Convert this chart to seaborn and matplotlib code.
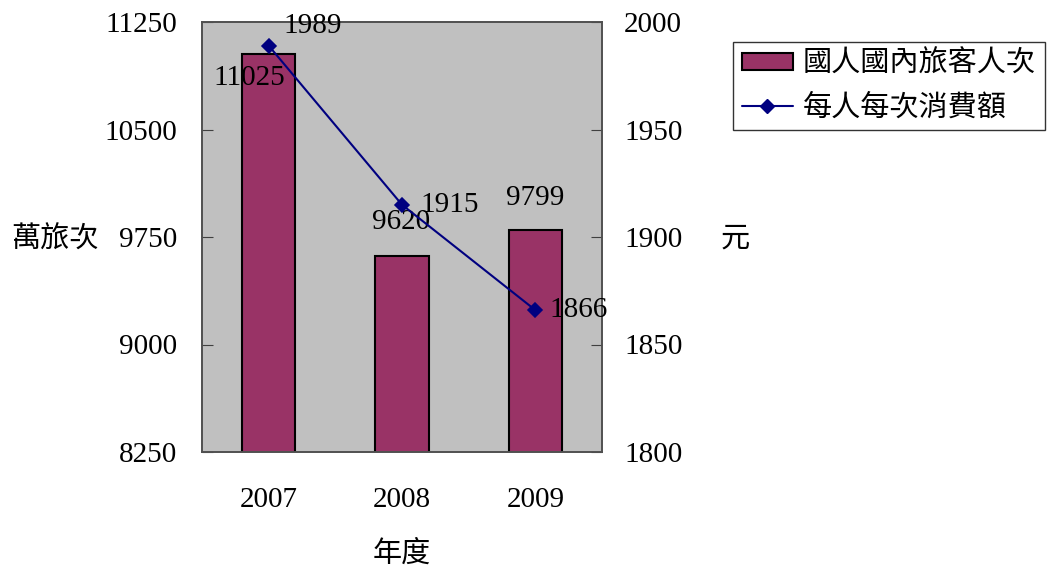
import matplotlib
matplotlib.use("Agg")
import matplotlib.pyplot as plt
import seaborn as sns
from matplotlib.lines import Line2D
from matplotlib.patches import Patch

years = ["2007", "2008", "2009"]
trips = [11025, 9620, 9799]          # 萬旅次
spend = [1989, 1915, 1866]           # 元
bar_name = "國人國內旅客人次"
line_name = "每人每次消費額"

sns.set_style("white")
plt.rcParams["font.family"] = ["Liberation Serif", "Noto Sans CJK TC", "DejaVu Sans"]
plt.rcParams["font.size"] = 21
plt.rcParams["text.color"] = "black"
plt.rcParams["xtick.color"] = "black"
plt.rcParams["ytick.color"] = "black"
plt.rcParams["xtick.labelcolor"] = "black"
plt.rcParams["ytick.labelcolor"] = "black"

bar_color = "#993366"
line_color = "#000080"
fs = 21

fig = plt.figure(figsize=(10.47, 5.70), dpi=100)
ax = fig.add_axes([202 / 1047, 1 - 452 / 570, 400 / 1047, 430 / 570])
ax.set_facecolor("#C0C0C0")

sns.barplot(x=years, y=trips, ax=ax, color=bar_color, width=0.4,
            edgecolor="black", linewidth=1.5, saturation=1)
ax.set_ylim(8250, 11250)
ax.set_yticks(range(8250, 11251, 750))
ax.set_xlim(-0.5, 2.5)

ax2 = ax.twinx()
sns.pointplot(x=years, y=spend, ax=ax2, color=line_color, marker="D",
              markersize=7, linewidth=1.5)
ax2.set_ylim(1800, 2000)
ax2.set_yticks(range(1800, 2001, 50))
ax2.set_xlim(-0.5, 2.5)

# x ticks: labels at centres, tick marks at category boundaries
ax.set_xticks(range(len(years)))
ax.set_xticklabels(years)
ax.set_xticks([0.5, 1.5], minor=True)
ax.tick_params(axis="x", which="major", length=0, pad=25, labelsize=fs)
ax.tick_params(axis="x", which="minor", direction="in", length=8, color="#404040")
ax.tick_params(axis="y", direction="in", length=8, pad=18, color="#404040",
               left=True, labelsize=fs)
ax2.tick_params(axis="y", direction="in", length=8, pad=16, color="#404040",
                right=True, labelsize=fs)
ax.set_xlabel("")
ax.set_ylabel("")
ax2.set_xlabel("")
ax2.set_ylabel("")

for a in (ax, ax2):
    for s in a.spines.values():
        s.set_color("#505050")
        s.set_linewidth(1.2)
        s.set_visible(True)

# value labels on bars
bar_offsets = [(-14, -17), (-1, 24), (0, 23)]
for i, (v, off) in enumerate(zip(trips, bar_offsets)):
    ax.annotate(str(v), (i, v), xytext=off, textcoords="offset points",
                ha="center", va="center", fontsize=fs, zorder=5)

# value labels on line
line_offsets = [(32, 14), (34, 0), (31, 0)]
for i, (v, off) in enumerate(zip(spend, line_offsets)):
    ax2.annotate(str(v), (i, v), xytext=off, textcoords="offset points",
                 ha="center", va="center", fontsize=fs, zorder=5)

fig.text(55 / 1047, 1 - 240 / 570, "萬旅次", ha="center", va="center", fontsize=fs)
fig.text(735 / 1047, 1 - 240 / 570, "元", ha="center", va="center", fontsize=fs)
fig.text(402 / 1047, 1 - 554 / 570, "年度", ha="center", va="center", fontsize=fs)

handles = [
    Patch(facecolor=bar_color, edgecolor="black", linewidth=1.5),
    Line2D([0], [0], color=line_color, marker="D", markersize=7, linewidth=1.5),
]
leg = fig.legend(handles, [bar_name, line_name], loc="upper left",
                 bbox_to_anchor=(733 / 1047, 1 - 42 / 570), frameon=True,
                 fancybox=False, edgecolor="black", fontsize=fs,
                 handlelength=1.75, handleheight=0.5, handletextpad=0.35,
                 borderpad=0.3, labelspacing=0.55, borderaxespad=0)
leg.get_frame().set_linewidth(1.0)

fig.savefig("out.png", dpi=100)
